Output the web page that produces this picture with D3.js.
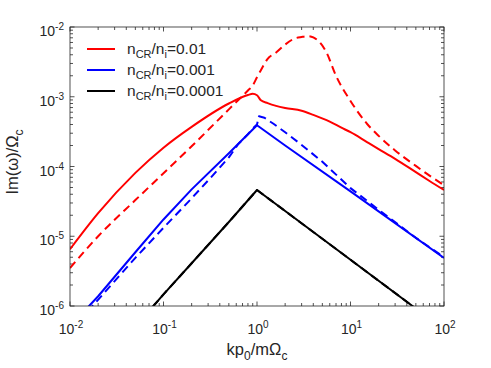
<!DOCTYPE html>
<html>
<head>
<meta charset="utf-8">
<script src="https://cdn.jsdelivr.net/npm/d3@7"></script>
<style>
  body { margin: 0; background: #fff; }
  svg { display: block; font-family: "Liberation Sans", Arial, sans-serif; }
</style>
</head>
<body>
<div id="chart"></div>
<script>
// values
const redSolidX = [0.01, 0.02, 0.05, 0.1, 0.2, 0.5, 0.8, 0.9, 1.0, 1.1, 1.3, 1.6, 2, 3, 4, 6, 8, 10, 15, 20, 30, 50, 70, 100];
const redSolidY = [6.5e-6, 2.14e-5, 8.1e-5, 1.86e-4, 3.7e-4, 8.0e-4, 1.06e-3, 1.10e-3, 1.05e-3, 8.9e-4, 8.1e-4, 7.4e-4, 6.9e-4, 6.3e-4, 5.5e-4, 4.4e-4, 3.6e-4, 3.1e-4, 2.24e-4, 1.78e-4, 1.29e-4, 8.3e-5, 6.2e-5, 4.6e-5];

const redDashX = [0.01, 0.02, 0.05, 0.1, 0.2, 0.5, 0.8, 0.9, 1.0, 1.1, 1.3, 1.6, 2, 2.5, 3, 3.5, 4, 4.7, 5.5, 7, 10, 15, 20, 30, 50, 70, 100];
const redDashY = [3.5e-6, 1.0e-5, 3.3e-5, 8.0e-5, 1.95e-4, 6.6e-4, 1.23e-3, 1.45e-3, 1.9e-3, 2.4e-3, 3.5e-3, 4.3e-3, 5.6e-3, 6.8e-3, 7.2e-3, 7.4e-3, 7.1e-3, 6.0e-3, 4.4e-3, 2.0e-3, 8.7e-4, 4.1e-4, 2.75e-4, 1.7e-4, 1.02e-4, 7.4e-5, 5.4e-5];

const blueSolidX = [0.01, 0.016, 0.02, 0.05, 0.1, 0.2, 0.5, 0.8, 0.9, 1.0, 2, 10, 100];
const blueSolidY = [5e-7, 1e-6, 1.38e-6, 5.9e-6, 1.74e-5, 4.7e-5, 1.55e-4, 2.9e-4, 3.4e-4, 3.9e-4, 2.0e-4, 4.4e-5, 4.9e-6];

const blueDashX = [0.01, 0.0174, 0.05, 0.1, 0.2, 0.316, 0.5, 0.63, 0.8, 0.9, 1.0, 1.05, 1.2, 1.5, 2, 3, 5, 10, 20, 50, 100];
const blueDashY = [4.5e-7, 1e-6, 4.9e-6, 1.32e-5, 3.5e-5, 6.8e-5, 1.35e-4, 2.1e-4, 2.9e-4, 3.5e-4, 4.0e-4, 5.25e-4, 5.0e-4, 4.1e-4, 3.1e-4, 2.04e-4, 1.17e-4, 4.9e-5, 2.4e-5, 9.5e-6, 5e-6];

const blackSolidX = [0.05, 0.078, 0.1, 0.2, 0.5, 1.0, 10, 46, 100];
const blackSolidY = [5.2e-7, 1e-6, 1.47e-6, 4.1e-6, 1.6e-5, 4.6e-5, 4.6e-6, 1e-6, 4.6e-7];
const blackDashX = blackSolidX;
const blackDashY = blackSolidY;

const legendLabels = ["0.01", "0.001", "0.0001"];
const colors = ["#ff0000", "#0000ff", "#000000"];
const xTicks = [1e-2, 1e-1, 1e0, 1e1, 1e2];
const xTickExp = ["-2", "-1", "0", "1", "2"];
const yTicks = [1e-6, 1e-5, 1e-4, 1e-3, 1e-2];
const yTickExp = ["-6", "-5", "-4", "-3", "-2"];

const width = 491, height = 368;
const margin = { top: 27, right: 47, bottom: 62, left: 70 };
const axisColor = "#262626";

const svg = d3.select("#chart").append("svg")
    .attr("width", width).attr("height", height);

const x = d3.scaleLog().domain([1e-2, 1e2]).range([margin.left, width - margin.right]);
const y = d3.scaleLog().domain([1e-6, 1e-2]).range([height - margin.bottom, margin.top]);

svg.append("clipPath").attr("id", "plotClip")
    .append("rect")
    .attr("x", x(1e-2)).attr("y", y(1e-2))
    .attr("width", x(1e2) - x(1e-2)).attr("height", y(1e-6) - y(1e-2));

// ticks, inward on all four sides
let minorX = [], minorY = [];
for (let e = -2; e < 2; e++) for (let m = 2; m < 10; m++) minorX.push(m * Math.pow(10, e));
for (let e = -6; e < -2; e++) for (let m = 2; m < 10; m++) minorY.push(m * Math.pow(10, e));

const x0 = x(1e-2), x1 = x(1e2), y0 = y(1e-6), y1 = y(1e-2);
const tickG = svg.append("g").attr("stroke", axisColor).attr("stroke-width", 0.8);

function xTick(v, len) {
    tickG.append("line").attr("x1", x(v)).attr("x2", x(v)).attr("y1", y0).attr("y2", y0 - len);
    tickG.append("line").attr("x1", x(v)).attr("x2", x(v)).attr("y1", y1).attr("y2", y1 + len);
}
function yTick(v, len) {
    tickG.append("line").attr("y1", y(v)).attr("y2", y(v)).attr("x1", x0).attr("x2", x0 + len);
    tickG.append("line").attr("y1", y(v)).attr("y2", y(v)).attr("x1", x1).attr("x2", x1 - len);
}
xTicks.forEach(v => xTick(v, 4.5));
minorX.forEach(v => xTick(v, 3));
yTicks.forEach(v => yTick(v, 4.5));
minorY.forEach(v => yTick(v, 3));

// lines: red ones are smooth, blue/black have a sharp corner at 1
const smooth = d3.line().x(d => x(d[0])).y(d => y(d[1])).curve(d3.curveMonotoneX);
const straight = d3.line().x(d => x(d[0])).y(d => y(d[1]));
const series = [
    { xs: redSolidX, ys: redSolidY, color: colors[0], dash: null, gen: smooth },
    { xs: blueSolidX, ys: blueSolidY, color: colors[1], dash: null, gen: straight },
    { xs: blackSolidX, ys: blackSolidY, color: colors[2], dash: null, gen: straight },
    { xs: redDashX, ys: redDashY, color: colors[0], dash: "8,5", gen: smooth },
    { xs: blueDashX, ys: blueDashY, color: colors[1], dash: "8,5", gen: straight },
    { xs: blackDashX, ys: blackDashY, color: colors[2], dash: "8,5", gen: straight }
];
const plotG = svg.append("g").attr("clip-path", "url(#plotClip)");
series.forEach(s => {
    plotG.append("path")
        .datum(s.xs.map((v, i) => [v, s.ys[i]]))
        .attr("fill", "none")
        .attr("stroke", s.color)
        .attr("stroke-width", 2)
        .attr("stroke-dasharray", s.dash)
        .attr("stroke-linejoin", "round")
        .attr("d", s.gen);
});

// box
svg.append("rect")
    .attr("x", x0).attr("y", y1).attr("width", x1 - x0).attr("height", y0 - y1)
    .attr("fill", "none").attr("stroke", axisColor).attr("stroke-width", 0.8);

// tick labels
xTicks.forEach((v, i) => {
    const t = svg.append("text").attr("x", x(v) + 1).attr("y", y0 + 28)
        .attr("text-anchor", "middle").attr("fill", axisColor).attr("font-size", 14);
    t.append("tspan").text("10");
    t.append("tspan").attr("dy", -6).attr("font-size", 10).text(xTickExp[i]);
});
yTicks.forEach((v, i) => {
    const t = svg.append("text").attr("x", x0 - 6).attr("y", y(v) + 9)
        .attr("text-anchor", "end").attr("fill", axisColor).attr("font-size", 14);
    t.append("tspan").text("10");
    t.append("tspan").attr("dy", -6).attr("font-size", 10).text(yTickExp[i]);
});

// axis labels
const xl = svg.append("text").attr("x", 257).attr("y", 355)
    .attr("text-anchor", "middle").attr("fill", axisColor).attr("font-size", 16.5);
xl.append("tspan").text("kp");
xl.append("tspan").attr("dy", 5).attr("font-size", 12).text("0");
xl.append("tspan").attr("dy", -5).text("/m\u03A9");
xl.append("tspan").attr("dy", 5).attr("font-size", 12).text("c");

const yl = svg.append("text")
    .attr("transform", "translate(18," + 162 + ") rotate(-90)")
    .attr("text-anchor", "middle").attr("fill", axisColor).attr("font-size", 16.5);
yl.append("tspan").text("Im(\u03C9)/\u03A9");
yl.append("tspan").attr("dy", 5).attr("font-size", 12).text("c");

// legend
legendLabels.forEach((lab, i) => {
    const ly = 49 + i * 21;
    svg.append("line").attr("x1", 87).attr("x2", 115).attr("y1", ly).attr("y2", ly)
        .attr("stroke", colors[i]).attr("stroke-width", 2);
    const t = svg.append("text").attr("x", 127).attr("y", ly + 5)
        .attr("fill", axisColor).attr("font-size", 15.5);
    t.append("tspan").text("n");
    t.append("tspan").attr("dy", 4).attr("font-size", 11).text("CR");
    t.append("tspan").attr("dy", -4).text("/n");
    t.append("tspan").attr("dy", 4).attr("font-size", 11).text("i");
    t.append("tspan").attr("dy", -4).text("=" + lab);
});
</script>
</body>
</html>
